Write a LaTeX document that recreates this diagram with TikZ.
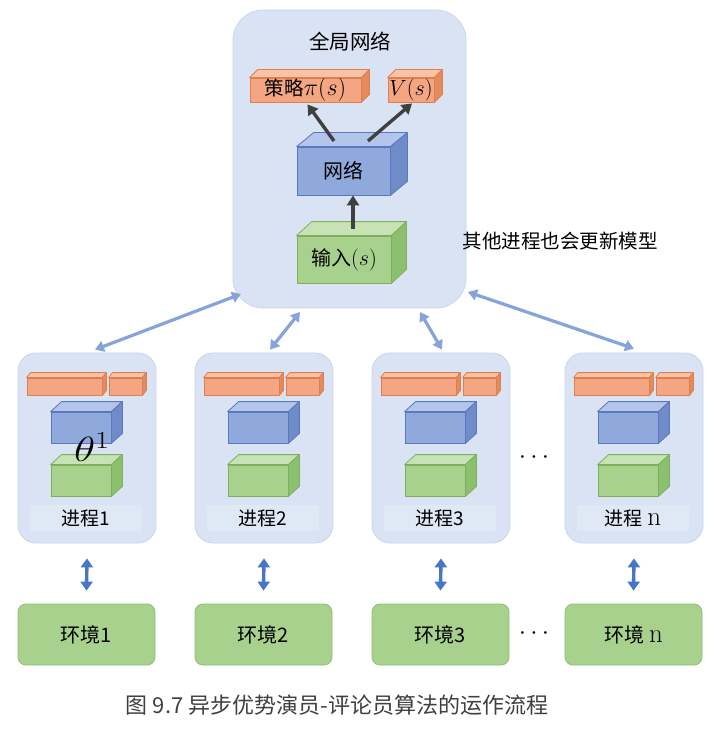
\RequirePackage{fix-cm}
\documentclass[tikz,border=0pt]{standalone}
\usepackage{fontspec}
\newfontfamily\cjk{Noto Sans CJK SC}
\usetikzlibrary{arrows.meta,calc}
\definecolor{panelfill}{HTML}{DAE3F3}
\definecolor{paneldraw}{HTML}{C8D6EC}
\definecolor{bandfill}{HTML}{DFE8F5}
\definecolor{orfront}{HTML}{F4A581}
\definecolor{ortop}{HTML}{F8C4A8}
\definecolor{orside}{HTML}{E48B5E}
\definecolor{orline}{HTML}{E07E4E}
\definecolor{blfront}{HTML}{8FA9DC}
\definecolor{bltop}{HTML}{B3C5EA}
\definecolor{blside}{HTML}{6F8BC8}
\definecolor{blline}{HTML}{5A78BE}
\definecolor{grfront}{HTML}{A9D18E}
\definecolor{grtop}{HTML}{C7E2B5}
\definecolor{grside}{HTML}{8CBF6E}
\definecolor{grline}{HTML}{7DB05E}
\definecolor{envdraw}{HTML}{8FBF73}
\definecolor{darkarrow}{HTML}{404040}
\definecolor{lightarrow}{HTML}{86A3DA}
\definecolor{midarrow}{HTML}{4676C8}
\definecolor{captext}{HTML}{404040}
\newcommand\cube[9]{%
  \node[draw=#8line, fill=#8front, line width=0.8pt, inner sep=0pt,
        minimum width={(#4)-(#2)}, minimum height={(#5)-(#3)}] (#1)
        at ({((#2)+(#4))/2},{((#3)+(#5))/2}) {#9};
  \filldraw[fill=#8top, draw=#8line, line width=0.8pt, line join=round]
    (#1.north west) -- ++(#6,-#7) -- ([shift={(#6,-#7)}]#1.north east) -- (#1.north east) -- cycle;
  \filldraw[fill=#8side, draw=#8line, line width=0.8pt, line join=round]
    (#1.north east) -- ([shift={(#6,-#7)}]#1.north east) -- ([shift={(#6,-#7)}]#1.south east) -- (#1.south east) -- cycle;
}
\newcommand\mth[2][22]{{\fontsize{#1}{#1}\selectfont$#2$}}
\tikzset{
  panel/.style={draw=paneldraw, fill=panelfill, line width=0.8pt},
  cjkf/.style={font=\cjk\fontsize{#1}{#1}\selectfont},
  envbox/.style={draw=envdraw, fill=grfront, line width=0.8pt, rounded corners=8pt,
     minimum width=137pt, minimum height=61pt, cjkf=20},
  darr/.style={draw=darkarrow, line width=3.4pt, -{Triangle[length=10pt,width=12pt]}},
  larr/.style={draw=lightarrow, line width=3.2pt, {Triangle[length=9pt,width=11pt]}-{Triangle[length=9pt,width=11pt]}},
  varr/.style={draw=midarrow, line width=3.4pt, {Triangle[length=9pt,width=12pt]}-{Triangle[length=9pt,width=12pt]}},
}
\begin{document}
\begin{tikzpicture}[x=1pt,y=-1pt]
\useasboundingbox[fill=white] (0,0) rectangle (726,735);
% global network
\node[panel, rounded corners=30pt, minimum width=233pt, minimum height=298pt] (G) at (349.5,159) {};
\node[cjkf=20.5] (Gt) at (350,42) {全局网络};
\cube{pol}{250}{78}{361}{102}{8}{8}{or}{\cjk\fontsize{19.5}{19.5}\selectfont 策略\mth[24]{\pi(s)}}
\cube{val}{388}{78}{434}{102}{8}{8}{or}{\mth{V(s)}}
\cube{net}{297}{147}{390}{195}{17}{14}{bl}{\cjk\fontsize{20}{20}\selectfont 网络}
\cube{inp}{297}{236}{391}{283}{15}{14}{gr}{\cjk\fontsize{20}{20}\selectfont 输入\mth{(s)}}
\coordinate (n1) at (334,141);
\coordinate (n2) at (368,141);
\coordinate (i1) at (353,229);
\draw[darr] (n1) -- ($(pol.south)+(2,2)$);
\draw[darr] (n2) -- ($(val.south)+(1,1)$);
\draw[darr] (i1) -- (i1 |- net.south);
\node[cjkf=19.5] (other) at (560,241) {其他进程也会更新模型};
% processes and environments
\foreach \L/\i/\lab in {18/1/1,195/2/2,372/3/3,565/n/{\hspace{0.25em}\rmfamily\fontsize{27}{27}\selectfont n}}{
  \node[panel, rounded corners=18pt, minimum width=138pt, minimum height=190pt] (P\i) at (\L+69,448) {};
  \cube{ba\i}{\L+9}{378}{\L+84}{395}{4}{5}{or}{}
  \cube{bb\i}{\L+91}{378}{\L+124}{395}{4}{5}{or}{}
  \cube{bn\i}{\L+33}{412}{\L+93}{443}{11}{10}{bl}{}
  \cube{bg\i}{\L+33}{465}{\L+93}{496}{11}{10}{gr}{}
  \node[fill=bandfill, minimum width=112pt, minimum height=26pt, cjkf=19] (lab\i) at (\L+68,518) {进程\lab};
  \node[envbox] (E\i) at (\L+68.5,634.5) {环境\lab};
  \draw[varr] ($(P\i.south)+(0,15)$) -- ($(E\i.north)+(0,-13)$);
}
\node[font=\fontsize{35}{35}\selectfont, xscale=1.25, transform shape] (theta) at (92,447) {$\theta^1$};
% links global <-> processes
\coordinate (g1) at (241,294);
\coordinate (g2) at (300,312);
\coordinate (g3) at (420,312);
\coordinate (g4) at (468,292);
\draw[larr] (g1) -- ($(P1.north)+(8,-3)$);
\draw[larr] (g2) -- ($(P2.north)+(6,-3)$);
\draw[larr] (g3) -- ($(P3.north)+(1,-3)$);
\draw[larr] (g4) -- ($(Pn.north)+(0,-4)$);
% dots
\node[font=\fontsize{26}{26}\selectfont] (d1) at (534,458) {$\cdots$};
\node[font=\fontsize{26}{26}\selectfont] (d2) at (534,634) {$\cdots$};
% caption
\node[cjkf=22, text=captext] (cap) at (337,705) {图 9.7 异步优势演员-评论员算法的运作流程};
\end{tikzpicture}
\end{document}
